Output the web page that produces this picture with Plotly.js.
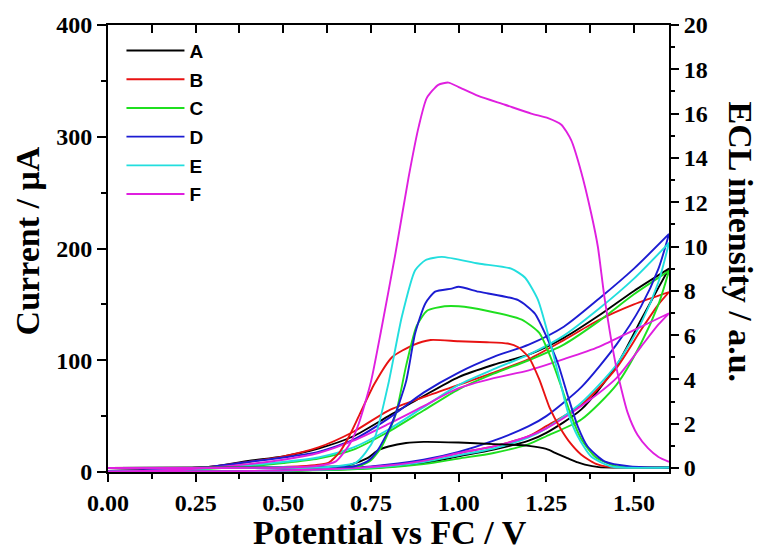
<!DOCTYPE html>
<html>
<head>
<meta charset="utf-8">
<script src="https://cdn.plot.ly/plotly-3.0.1.min.js"></script>
<style>html,body{margin:0;padding:0;background:#fff;}#chart{width:759px;height:556px;}</style>
</head>
<body>
<div id="chart"></div>
<script>
// ---- data ----
const seriesNames = ['A', 'B', 'C', 'D', 'E', 'F'];

// cyclic voltammograms: forward (lower) branch, potential vs FC / V -> current / uA
const potFwd = [0, 0.25, 0.5, 0.75, 0.9, 1.0, 1.1, 1.2, 1.25, 1.35, 1.45, 1.52, 1.57, 1.6];
const fwdA = [0, 0.3, 1.0, 3.5, 8, 14, 20, 28, 35, 56, 95, 136, 165, 182];
const fwdB = [0, 0.3, 1.2, 4.5, 10, 17, 23, 32, 41, 60, 93, 127, 150, 161];
const fwdC = [0, 0.2, 0.8, 3, 7, 12, 17, 25, 32, 47, 78, 115, 150, 180];
const fwdD = [0, 0.4, 1.5, 5, 11, 18, 28, 41, 50, 76, 114, 148, 182, 213];
const fwdE = [0, 0.3, 1.1, 4, 9, 15, 21, 31, 39, 62, 96, 133, 170, 205];
const fwdF = [0, 0.4, 1.4, 4.5, 10, 17, 23, 32, 39, 59, 84, 112, 132, 142];

// reverse (upper) branch
const potRev = [1.6, 1.5, 1.4, 1.3, 1.2, 1.1, 1.0, 0.9, 0.8, 0.7, 0.6, 0.5, 0.4, 0.3, 0.2, 0.1, 0];
const revA = [182, 162, 140, 120, 105, 96, 85, 68, 50, 32, 21, 14, 10, 5, 3, 1.5, 1];
const revB = [161, 150, 136, 118, 101, 89, 78, 67, 55, 36, 22, 14, 9, 5, 3, 1.5, 1];
const revC = [180, 159, 135, 114, 100, 88, 74, 55, 36, 20, 12, 8, 5, 3, 2, 1, 0.5];
const revD = [213, 182, 155, 130, 114, 103, 89, 71, 48, 29, 18, 13, 9, 5, 3, 1.5, 1];
const revE = [205, 173, 146, 122, 105, 92, 78, 58, 38, 22, 13, 9, 6, 3.5, 2, 1, 0.5];
const revF = [142, 127, 112, 101, 91, 84, 75, 59, 43, 28, 17, 11, 7, 4, 2, 1, 0.5];

// ECL intensity / a.u. (right axis)
const eclPotA = [0, 0.4, 0.6, 0.68, 0.74, 0.77, 0.8, 0.85, 0.9, 1.0, 1.1, 1.15, 1.2, 1.25, 1.28, 1.31, 1.34, 1.36, 1.4, 1.6];
const eclA =    [0, 0.02, 0.05, 0.1, 0.45, 0.8, 0.97, 1.13, 1.18, 1.15, 1.08, 1.05, 1.0, 0.86, 0.65, 0.45, 0.25, 0.15, 0.04, 0.02];
const eclPotB = [0, 0.4, 0.55, 0.6, 0.63, 0.66, 0.69, 0.72, 0.76, 0.81, 0.87, 0.92, 1.0, 1.08, 1.14, 1.17, 1.2, 1.23, 1.26, 1.29, 1.32, 1.35, 1.39, 1.43, 1.6];
const eclB =    [0, 0.02, 0.08, 0.15, 0.25, 0.7, 1.5, 2.5, 3.8, 5.0, 5.55, 5.78, 5.72, 5.68, 5.62, 5.45, 5.0, 4.0, 2.7, 1.8, 1.1, 0.6, 0.2, 0.05, 0.02];
const eclPotC = [0, 0.5, 0.65, 0.7, 0.72, 0.75, 0.78, 0.82, 0.85, 0.88, 0.91, 0.96, 1.0, 1.08, 1.18, 1.23, 1.26, 1.29, 1.32, 1.35, 1.39, 1.45, 1.6];
const eclC =    [0, 0.02, 0.05, 0.08, 0.1, 0.35, 0.95, 2.4, 4.6, 6.4, 7.1, 7.3, 7.3, 7.1, 6.7, 6.1, 5.1, 3.8, 2.4, 1.3, 0.5, 0.08, 0.02];
const eclPotD = [0, 0.5, 0.65, 0.7, 0.74, 0.77, 0.81, 0.85, 0.876, 0.905, 0.933, 0.98, 1.0, 1.056, 1.084, 1.17, 1.217, 1.255, 1.283, 1.312, 1.34, 1.368, 1.416, 1.49, 1.6];
const eclD =    [0, 0.02, 0.05, 0.07, 0.3, 0.82, 2.03, 3.9, 6.08, 7.43, 7.96, 8.1, 8.18, 7.96, 7.88, 7.58, 6.98, 5.78, 4.73, 3.23, 1.87, 0.97, 0.3, 0.07, 0.02];
const eclPotE = [0, 0.5, 0.6, 0.65, 0.706, 0.734, 0.762, 0.8, 0.838, 0.876, 0.905, 0.952, 1.056, 1.15, 1.189, 1.226, 1.264, 1.288, 1.312, 1.34, 1.378, 1.435, 1.6];
const eclE =    [0, 0.02, 0.03, 0.08, 0.23, 0.68, 1.42, 3.83, 6.83, 8.93, 9.38, 9.53, 9.23, 9.0, 8.6, 7.6, 5.5, 4.0, 2.5, 1.42, 0.52, 0.07, 0.02];
const eclPotF = [0, 0.3, 0.5, 0.6, 0.65, 0.69, 0.715, 0.75, 0.78, 0.82, 0.857, 0.886, 0.909, 0.942, 0.971, 1.0, 1.056, 1.132, 1.207, 1.255, 1.293, 1.321, 1.349, 1.378, 1.397, 1.416, 1.449, 1.482, 1.51, 1.54, 1.57, 1.6];
const eclF =    [0, 0, 0.02, 0.1, 0.3, 1.1, 2.0, 3.9, 6.3, 9.7, 13.1, 15.4, 16.7, 17.3, 17.4, 17.2, 16.8, 16.4, 16.0, 15.8, 15.5, 14.8, 13.4, 11.5, 10.0, 7.7, 4.6, 2.5, 1.5, 0.9, 0.5, 0.28];

const colors = ['#000000', '#e81212', '#1fdf1f', '#1c1cd2', '#22dede', '#df1fdf'];

const xTickVals = [0, 0.25, 0.5, 0.75, 1.0, 1.25, 1.5];
const xTickText = ['0.00', '0.25', '0.50', '0.75', '1.00', '1.25', '1.50'];

// ---- traces ----
const fwd = [fwdA, fwdB, fwdC, fwdD, fwdE, fwdF];
const rev = [revA, revB, revC, revD, revE, revF];
const eclPot = [eclPotA, eclPotB, eclPotC, eclPotD, eclPotE, eclPotF];
const ecl = [eclA, eclB, eclC, eclD, eclE, eclF];

const traces = [];
seriesNames.forEach((name, i) => {
  traces.push({
    x: potFwd.concat(potRev), y: fwd[i].concat(rev[i]),
    type: 'scatter', mode: 'lines', name: name, legendgroup: name, showlegend: true,
    line: {color: colors[i], width: 1.9, shape: 'spline', smoothing: 0.7},
    xaxis: 'x', yaxis: 'y', hoverinfo: 'skip'
  });
});
seriesNames.forEach((name, i) => {
  traces.push({
    x: eclPot[i], y: ecl[i],
    type: 'scatter', mode: 'lines', name: name, legendgroup: name, showlegend: false,
    line: {color: colors[i], width: 1.9, shape: 'spline', smoothing: 0.6},
    xaxis: 'x2', yaxis: 'y2', hoverinfo: 'skip'
  });
});

const serif = {family: 'Liberation Serif, Times New Roman, serif', size: 24, color: '#000', weight: 'bold'};
const titleFont = {family: 'Liberation Serif, Times New Roman, serif', size: 34, color: '#000', weight: 'bold'};

const layout = {
  width: 759, height: 556,
  margin: {l: 108, r: 90, t: 25, b: 84},
  paper_bgcolor: '#fff', plot_bgcolor: '#fff',
  showlegend: true,
  legend: {
    x: 0.024, y: 0.985, xanchor: 'left', yanchor: 'top',
    bgcolor: 'rgba(0,0,0,0)', itemwidth: 58, tracegroupgap: 1,
    font: {family: 'Liberation Sans, Arial, sans-serif', size: 19, color: '#000', weight: 'bold'}
  },
  xaxis: {
    range: [0, 1.6], tickvals: xTickVals, ticktext: xTickText,
    showline: true, linewidth: 2, linecolor: '#000', mirror: false,
    ticks: 'outside', ticklen: 8, tickwidth: 2, tickcolor: '#000',
    minor: {tickvals: [0.125, 0.375, 0.625, 0.875, 1.125, 1.375], ticks: 'outside', ticklen: 5, tickwidth: 2, tickcolor: '#000'},
    showgrid: false, zeroline: false, tickfont: serif
  },
  xaxis2: {
    overlaying: 'x', side: 'top', anchor: 'y', range: [0, 1.6],
    showline: true, linewidth: 2, linecolor: '#000',
    ticks: 'inside', ticklen: 8, tickwidth: 2, tickcolor: '#000', dtick: 0.125, tick0: 0,
    showticklabels: false, showgrid: false, zeroline: false
  },
  yaxis: {
    range: [0, 400], dtick: 100, tick0: 0,
    showline: true, linewidth: 2, linecolor: '#000',
    ticks: 'outside', ticklen: 9, tickwidth: 2, tickcolor: '#000',
    minor: {dtick: 50, ticks: 'outside', ticklen: 5, tickwidth: 2, tickcolor: '#000'},
    showgrid: false, zeroline: false, tickfont: serif
  },
  yaxis2: {
    overlaying: 'y', side: 'right', anchor: 'x', range: [-0.18, 20], dtick: 2, tick0: 0,
    showline: true, linewidth: 2, linecolor: '#000',
    ticks: 'outside', ticklen: 8, tickwidth: 2, tickcolor: '#000',
    minor: {dtick: 1, ticks: 'outside', ticklen: 4, tickwidth: 2, tickcolor: '#000'},
    showgrid: false, zeroline: false, tickfont: serif
  },
  annotations: [
    {text: 'Potential vs FC / V', xref: 'paper', yref: 'paper', x: 0.502, y: -0.136,
     xanchor: 'center', yanchor: 'middle', showarrow: false, font: titleFont},
    {text: 'Current / μA', xref: 'paper', yref: 'paper', x: -0.1435, y: 0.517,
     xanchor: 'center', yanchor: 'middle', showarrow: false, textangle: -90, font: titleFont},
    {text: 'ECL intensity / a.u.', xref: 'paper', yref: 'paper', x: 1.127, y: 0.515,
     xanchor: 'center', yanchor: 'middle', showarrow: false, textangle: 90, font: titleFont}
  ]
};

Plotly.newPlot('chart', traces, layout, {displayModeBar: false, staticPlot: true});
</script>
</body>
</html>
